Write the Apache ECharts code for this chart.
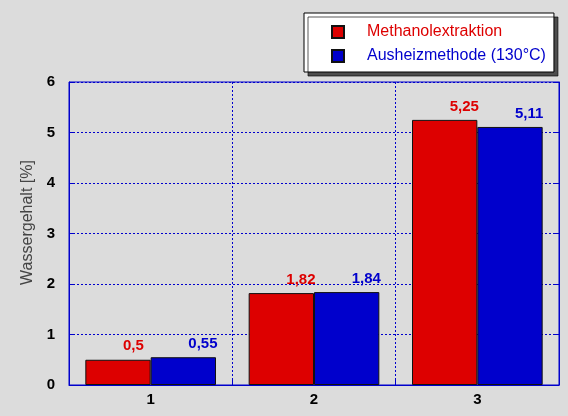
<!DOCTYPE html>
<html>
<head>
<meta charset="utf-8">
<script src="https://cdn.jsdelivr.net/npm/echarts@6/dist/echarts.min.js"></script>
<style>
html,body{margin:0;padding:0;background:#dcdcdc;}
#c{width:568px;height:416px;}
</style>
</head>
<body>
<div id="c"></div>
<script>
// Water content by sample and method
const categories = ['1', '2', '3'];
const methanolValues = [0.5, 1.82, 5.25];
const ausheizValues = [0.55, 1.84, 5.11];
const seriesNames = ['Methanolextraktion', 'Ausheizmethode (130°C)'];
const yTicks = [0, 1, 2, 3, 4, 5, 6];

const RED = '#dd0000';
const BLUE = '#0000cc';
const FONT = 'Liberation Sans, Arial, sans-serif';
const DOTS = { color: BLUE, type: [2, 2], width: 1 };

const fmt = v => String(v).replace('.', ',');

// value labels start just right of the bar centre
const valueLabel = color => ({
  show: true, position: 'top', distance: 6, align: 'left', offset: [5, 0],
  color: color, fontWeight: 'bold', fontSize: 15, fontFamily: FONT,
  formatter: p => fmt(p.value)
});

const yMin = yTicks[0];
const yMax = yTicks[yTicks.length - 1];

const chart = echarts.init(document.getElementById('c'));
chart.setOption({
  backgroundColor: '#dcdcdc',
  animation: false,
  grid: {
    left: 69, right: 9, top: 82, bottom: 31,
    show: true, borderColor: BLUE, borderWidth: 1, backgroundColor: 'transparent'
  },
  legend: {
    left: 304, top: 13,
    orient: 'vertical',
    itemWidth: 12, itemHeight: 12, itemGap: 8,
    padding: [11, 8, 8, 27],
    backgroundColor: '#ffffff',
    borderColor: '#000000', borderWidth: 1,
    shadowColor: 'rgba(0,0,0,0.65)', shadowBlur: 0, shadowOffsetX: 4, shadowOffsetY: 4,
    icon: 'rect',
    data: [
      { name: seriesNames[0], textStyle: { color: RED } },
      { name: seriesNames[1], textStyle: { color: BLUE } }
    ],
    textStyle: { fontFamily: FONT, fontSize: 16, padding: [0, 0, 0, 18] }
  },
  xAxis: {
    type: 'category',
    data: categories,
    axisLine: { lineStyle: { color: BLUE } },
    axisTick: { show: true, inside: true, length: 5, lineStyle: { color: BLUE } },
    axisLabel: { color: '#000', fontWeight: 'bold', fontSize: 15, fontFamily: FONT, margin: 7 },
    splitLine: { show: true, lineStyle: DOTS }
  },
  yAxis: [
    {
      type: 'value',
      min: yMin, max: yMax, interval: 1,
      name: 'Wassergehalt [%]',
      nameLocation: 'middle',
      nameGap: 30,
      nameTextStyle: { color: '#444', fontSize: 16, fontFamily: FONT, padding: [0, 0, 0, 22] },
      axisLine: { show: true, lineStyle: { color: BLUE } },
      axisTick: { show: true, inside: true, length: 6, lineStyle: { color: BLUE } },
      axisLabel: { color: '#000', fontWeight: 'bold', fontSize: 15, fontFamily: FONT, margin: 14 },
      splitLine: { show: true, lineStyle: DOTS }
    },
    {
      // mirrored tick marks on the right frame edge
      type: 'value', position: 'right',
      min: yMin, max: yMax, interval: 1,
      axisLine: { show: true, lineStyle: { color: BLUE } },
      axisTick: { show: true, inside: true, length: 6, lineStyle: { color: BLUE } },
      axisLabel: { show: false },
      splitLine: { show: false }
    }
  ],
  series: [
    {
      name: seriesNames[0], type: 'bar', data: methanolValues,
      barGap: '0%', barCategoryGap: '20%',
      itemStyle: { color: RED, borderColor: '#111', borderWidth: 1 },
      label: valueLabel(RED)
    },
    {
      name: seriesNames[1], type: 'bar', data: ausheizValues,
      barGap: '0%', barCategoryGap: '20%',
      itemStyle: { color: BLUE, borderColor: '#111', borderWidth: 1 },
      label: valueLabel(BLUE)
    }
  ]
});
</script>
</body>
</html>
